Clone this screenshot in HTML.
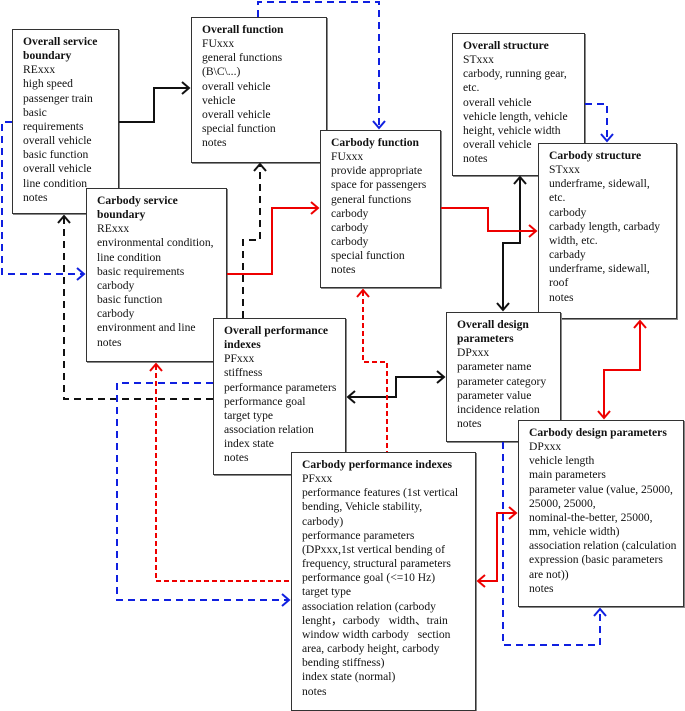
<!DOCTYPE html>
<html><head><meta charset="utf-8"><style>
body{margin:0;width:685px;height:711px;background:#fff;position:relative;overflow:hidden;font-family:"Liberation Serif",serif;font-size:11.6px;color:#111;}
.b{position:absolute;background:#fff;border:1.3px solid #333;box-sizing:border-box;padding:5px 4px 0 10px;line-height:14.15px;box-shadow:1px 1px 0 #888;white-space:nowrap;overflow:hidden;}
.b b{font-weight:bold;}
svg{position:absolute;left:0;top:0;}
</style></head><body>
<div class="b" style="left:12px;top:29px;width:107px;height:185px"><b>Overall service<br>boundary</b><br>RExxx<br>high speed<br>passenger train<br>basic<br>requirements<br>overall vehicle<br>basic function<br>overall vehicle<br>line condition<br>notes</div>
<div class="b" style="left:191px;top:17px;width:136px;height:146px"><b>Overall function</b><br>FUxxx<br>general functions<br>(B\C\...)<br>overall vehicle<br>vehicle<br>overall vehicle<br>special function<br>notes</div>
<div class="b" style="left:86px;top:188px;width:141px;height:174px"><b>Carbody service<br>boundary</b><br>RExxx<br>environmental condition,<br>line condition<br>basic requirements<br>carbody<br>basic function<br>carbody<br>environment and line<br>notes</div>
<div class="b" style="left:320px;top:130px;width:121px;height:158px"><b>Carbody function</b><br>FUxxx<br>provide appropriate<br>space for passengers<br>general functions<br>carbody<br>carbody<br>carbody<br>special function<br>notes</div>
<div class="b" style="left:452px;top:33px;width:133px;height:143px"><b>Overall structure</b><br>STxxx<br>carbody, running gear,<br>etc.<br>overall vehicle<br>vehicle length, vehicle<br>height, vehicle width<br>overall vehicle<br>notes</div>
<div class="b" style="left:538px;top:143px;width:139px;height:176px"><b>Carbody structure</b><br>STxxx<br>underframe, sidewall,<br>etc.<br>carbody<br>carbady length, carbady<br>width, etc.<br>carbady<br>underframe, sidewall,<br>roof<br>notes</div>
<div class="b" style="left:213px;top:318px;width:133px;height:157px"><b>Overall performance<br>indexes</b><br>PFxxx<br>stiffness<br>performance parameters<br>performance goal<br>target type<br>association relation<br>index state<br>notes</div>
<div class="b" style="left:446px;top:312px;width:115px;height:130px"><b>Overall design<br>parameters</b><br>DPxxx<br>parameter name<br>parameter category<br>parameter value<br>incidence relation<br>notes</div>
<div class="b" style="left:518px;top:420px;width:166px;height:187px"><b>Carbody design parameters</b><br>DPxxx<br>vehicle length<br>main parameters<br>parameter value (value, 25000,<br>25000, 25000,<br>nominal-the-better, 25000,<br>mm, vehicle width)<br>association relation (calculation<br>expression (basic parameters<br>are not))<br>notes</div>
<div class="b" style="left:291px;top:452px;width:185px;height:259px"><b>Carbody performance indexes</b><br>PFxxx<br>performance features (1st vertical<br>bending, Vehicle stability,<br>carbody)<br>performance parameters<br>(DPxxx,1st vertical bending of<br>frequency, structural parameters<br>performance goal (&lt;=10 Hz)<br>target type<br>association relation (carbody<br>lenght，carbody &nbsp; width、train<br>window width carbody &nbsp; section<br>area, carbody height, carbody<br>bending stiffness)<br>index state (normal)<br>notes</div>
<svg width="685" height="711" fill="none" stroke-width="2">
<g stroke="#111">
<polyline points="119,122 154,122 154,88 189,88"/><polyline points="182,82 189,88 182,94"/>
<polyline points="520,178 520,243 503,243 503,310"/><polyline points="514,184 520,177 526,184"/><polyline points="497,303 503,310 509,303"/>
<polyline points="348,397 396,397 396,377 444,377"/><polyline points="355,391 348,397 355,403"/><polyline points="437,371 444,377 437,383"/>
</g>
<g stroke="#111" stroke-dasharray="7,5">
<polyline points="243,318 243,240 260,240 260,165"/>
<polyline points="64,217 64,399 213,399"/>
</g>
<polyline stroke="#111" points="254,171 260,164 266,171"/><polyline stroke="#111" points="58,223 64,216 70,223"/>
<g stroke="#e00">
<polyline points="227,274 272,274 272,208 318,208"/><polyline points="311,202 318,208 311,214"/>
<polyline points="441,208 488,208 488,231 536,231"/><polyline points="529,225 536,231 529,237"/>
<polyline points="640,321 640,370 604,370 604,418"/><polyline points="634,328 640,321 646,328"/><polyline points="598,411 604,418 610,411"/>
<polyline points="516,513 497,513 497,581 478,581"/><polyline points="509,507 516,513 509,519"/><polyline points="485,575 478,581 485,587"/>
</g>
<g stroke="#e00" stroke-dasharray="5,3">
<polyline points="363,291 363,362 387,362 387,452"/>
<polyline points="156,365 156,581 291,581"/>
</g>
<polyline stroke="#e00" points="357,297 363,290 369,297"/><polyline stroke="#e00" points="150,371 156,364 162,371"/>
<g stroke="#1020e0" stroke-dasharray="7,5">
<polyline points="258,17 258,2 379,2 379,127"/>
<polyline points="12,122 2,122 2,274 84,274"/>
<polyline points="585,104 607,104 607,140"/>
<polyline points="213,383 117,383 117,600 289,600"/>
<polyline points="503,442 503,645 600,645 600,610"/>
</g>
<g stroke="#1020e0">
<polyline points="373,121 379,128 385,121"/><polyline points="77,268 84,274 77,280"/><polyline points="601,134 607,141 613,134"/><polyline points="282,594 289,600 282,606"/><polyline points="594,616 600,609 606,616"/>
</g>
</svg>
</body></html>
